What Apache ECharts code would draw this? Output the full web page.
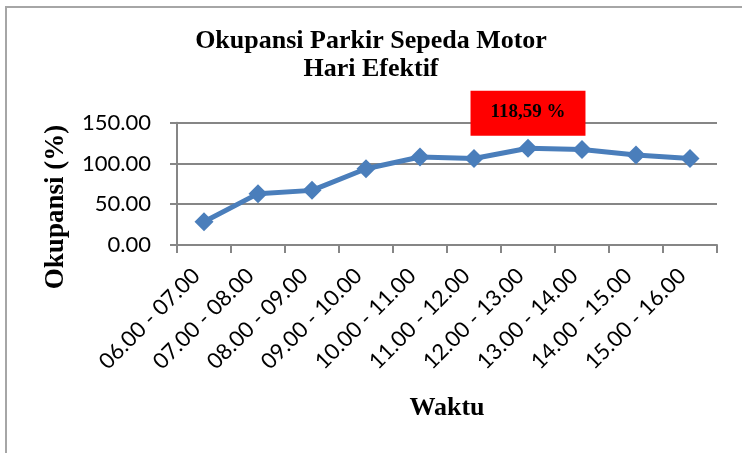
<!DOCTYPE html>
<html>
<head>
<meta charset="utf-8">
<script src="https://cdn.jsdelivr.net/npm/echarts@6/dist/echarts.min.js"></script>
<style>
  html, body { margin: 0; padding: 0; background: #fff; }
  #canvas { width: 742px; height: 453px; }
</style>
</head>
<body>
<div id="canvas"></div>
<script>
var judul = 'Okupansi Parkir Sepeda Motor\nHari Efektif';
var waktu = ['06.00 - 07.00', '07.00 - 08.00', '08.00 - 09.00', '09.00 - 10.00', '10.00 - 11.00',
             '11.00 - 12.00', '12.00 - 13.00', '13.00 - 14.00', '14.00 - 15.00', '15.00 - 16.00'];
var okupansi = [28.5, 63.0, 67.0, 93.5, 108.0, 106.0, 118.59, 117.0, 110.5, 106.0];
var puncakIdx = 6;
var puncakLabel = '118,59 %';
var yTicks = [0, 50, 100, 150];

function buatData(){
	var arr = [];
	for (var i = 0; i < okupansi.length; i++) {
		if (i == puncakIdx) {
			arr.push({
				value: okupansi[i],
				label: {
					show: true,
					position: 'top',
					distance: 3,
					formatter: puncakLabel,
					fontFamily: 'Liberation Serif',
					fontWeight: 'bold',
					fontSize: 19,
					lineHeight: 19,
					color: '#000',
					backgroundColor: '#ff0000',
					padding: [12, 20, 14, 20]
				}
			});
		} else {
			arr.push(okupansi[i]);
		}
	}
	return arr;
}

var myChart = echarts.init(document.getElementById('canvas'));
var option = {
	animation: false,
	backgroundColor: '#fff',
	title: {
		text: judul,
		left: 'center',
		top: 27,
		padding: 0,
		textStyle: {
			fontFamily: 'Liberation Serif',
			fontWeight: 'bold',
			fontSize: 26,
			lineHeight: 28,
			color: '#000'
		}
	},
	graphic: [
		{
			type: 'polyline',
			shape: { points: [[6, 453], [6, 7], [742, 7]] },
			style: { stroke: '#a6a6a6', lineWidth: 2, fill: null }
		},
		{
			type: 'text',
			x: 56,
			y: 207,
			rotation: Math.PI / 2,
			style: {
				text: 'Okupansi (%)',
				fontFamily: 'Liberation Serif',
				fontWeight: 'bold',
				fontSize: 27,
				fill: '#000',
				align: 'center',
				verticalAlign: 'middle'
			}
		}
	],
	grid: {
		left: 177,
		right: 25,
		top: 122.7,
		bottom: 208,
		outerBoundsMode: 'none',
		containLabel: false
	},
	xAxis: {
		type: 'category',
		data: waktu,
		boundaryGap: true,
		name: 'Waktu',
		nameLocation: 'middle',
		nameGap: 150,
		nameMoveOverlap: false,
		nameTextStyle: {
			fontFamily: 'Liberation Serif',
			fontWeight: 'bold',
			fontSize: 26,
			color: '#000'
		},
		axisLine: { show: true, lineStyle: { color: '#868686', width: 2 } },
		axisTick: { show: true, alignWithLabel: false, length: 8, lineStyle: { color: '#868686', width: 2 } },
		axisLabel: {
			interval: 0,
			rotate: 45,
			margin: 35,
			verticalAlign: 'bottom',
			fontFamily: 'Lato',
			fontSize: 22,
			color: '#000'
		},
		splitLine: { show: false }
	},
	yAxis: {
		type: 'value',
		min: yTicks[0],
		max: yTicks[yTicks.length - 1],
		interval: 50,
		axisLine: { show: true, lineStyle: { color: '#868686', width: 2 } },
		axisTick: { show: true, inside: false, length: 7, lineStyle: { color: '#868686', width: 2 } },
		axisLabel: {
			margin: 26,
			fontFamily: 'Lato',
			fontSize: 22,
			color: '#000',
			formatter: function(v){ return v.toFixed(2); }
		},
		splitLine: { show: true, lineStyle: { color: '#868686', width: 2 } }
	},
	series: [
		{
			name: 'Okupansi',
			type: 'line',
			data: buatData(),
			symbol: 'diamond',
			symbolSize: 19,
			lineStyle: { color: '#4a7ebb', width: 5 },
			itemStyle: { color: '#4a7ebb' },
			z: 3
		}
	]
};
myChart.setOption(option);
window.onresize = myChart.resize;
</script>
</body>
</html>
